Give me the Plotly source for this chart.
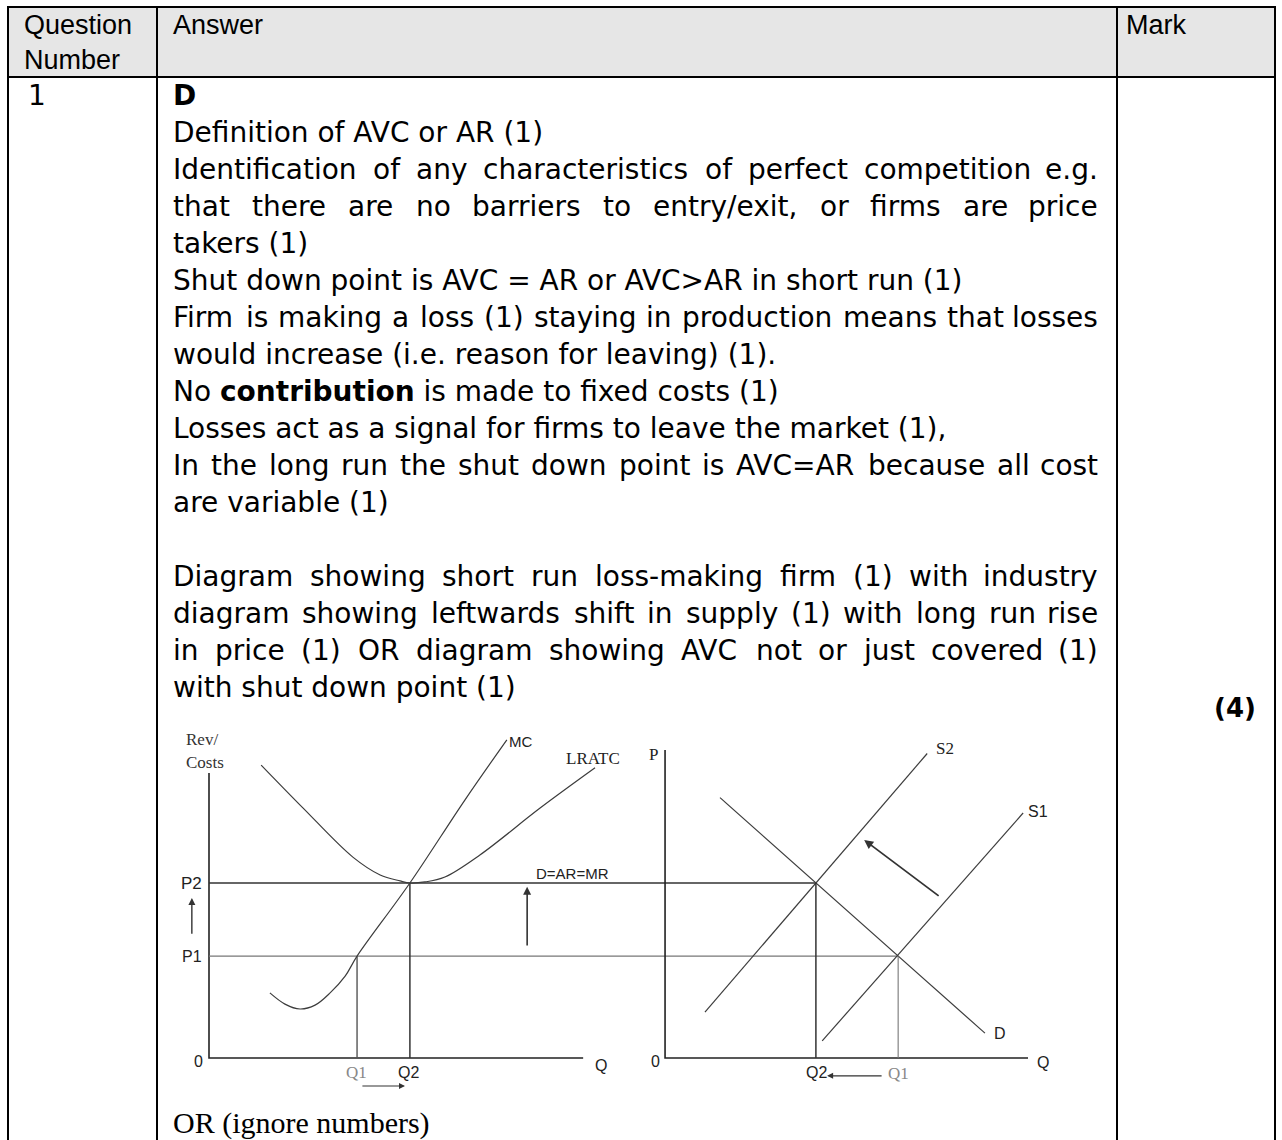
import plotly.graph_objects as go

W, H = 1282, 1140

# ---------------------------------------------------------------- text ----
HEAD_Q = ["Question", "Number"]
HEAD_A = "Answer"
HEAD_M = "Mark"
QNUM = "1"
ANSWER_KEY = "D"
# (line, justified?)
ANSWER_LINES = [
    ("Definition of AVC or AR (1)", False),
    ("Identification of any characteristics of perfect competition e.g.", True),
    ("that there are no barriers to entry/exit, or firms are price", True),
    ("takers (1)", False),
    ("Shut down point is AVC = AR or AVC>AR in short run (1)", False),
    ("Firm is making a loss (1) staying in production means that losses", True),
    ("would increase (i.e. reason for leaving) (1).", False),
    ("No <b>contribution</b> is made to fixed costs (1)", False),
    ("Losses act as a signal for firms to leave the market (1),", False),
    ("In the long run the shut down point is AVC=AR because all cost", True),
    ("are variable (1)", False),
    ("", False),
    ("Diagram showing short run loss-making firm (1) with industry", True),
    ("diagram showing leftwards shift in supply (1) with long run rise", True),
    ("in price (1) OR diagram showing AVC not or just covered (1)", True),
    ("with shut down point (1)", False),
]
MARK = "(4)"
FOOT = "OR (ignore numbers)"

# ------------------------------------------------------- diagram data ----
# firm diagram (left), units of price / quantity
P1, P2 = 2.91, 5.0
Q1, Q2 = 4.23, 5.74
MC_Q = [1.74, 2.17, 2.6, 3.03, 3.46, 3.89, 4.23, 5.74, 7.31, 8.51]
MC_P = [1.86, 1.54, 1.40, 1.51, 1.86, 2.34, 2.91, 5.0, 7.37, 9.09]
LRATC_Q = [1.49, 2.69, 4.11, 4.89, 5.46, 5.74, 6.17, 6.74, 7.74, 9.46, 11.03]
LRATC_P = [8.37, 7.14, 5.74, 5.23, 5.06, 5.0, 5.03, 5.17, 5.8, 7.14, 8.29]
FIRM_AXIS_Q, FIRM_AXIS_P = 10.69, 8.14

# industry diagram (right)
S1_Q, S1_P = [4.49, 10.23], [0.49, 7.0]
S2_Q, S2_P = [1.14, 7.49], [1.31, 8.7]
D_Q, D_P = [1.57, 9.14], [7.44, 0.71]
IQ2, IQ1 = 4.31, 6.66
IND_AXIS_Q, IND_AXIS_P = 10.37, 8.8

# ------------------------------------------------------------ layout ----
UNIT = 35.0            # px per diagram unit
ORX, ORY = 209, 1058   # firm diagram origin on the page
RDX = 13.03            # industry origin offset, in units

TBL_X = [8, 157, 1117, 1275]
TBL_TOP, TBL_HEAD = 7, 77
TXT_L, TXT_R = 172, 1099
Y_FIRST, LINE_H = 95, 37.0
BODY_FONT = "DejaVu Sans"
FS = 28

# DejaVu Sans advance widths (em) for justification
_CW = {' ': .318, '(': .39, ')': .39, ',': .318, '-': .361, '.': .318, '/': .337,
       '=': .838, '>': .838}
_CW.update({d: .636 for d in '0123456789'})
_CW.update(dict(zip('ABCDEFGHIJKLMNOPQRSTUVWXYZ',
                    [.684, .686, .698, .77, .632, .575, .775, .752, .295, .295, .656, .557, .863,
                     .748, .787, .603, .787, .695, .635, .611, .732, .684, .989, .685, .611, .685])))
_CW.update(dict(zip('abcdefghijklmnopqrstuvwxyz',
                    [.613, .635, .55, .635, .615, .352, .635, .634, .278, .278, .579, .278, .974,
                     .634, .612, .635, .635, .411, .521, .392, .634, .592, .818, .592, .592, .525])))


def tw(s):
    return sum(_CW.get(c, .6) for c in s) * FS


fig = go.Figure()
ann = []


def page_text(x, y, text, size=FS, family=BODY_FONT, anchor='left', color='#000'):
    ann.append(dict(x=x, y=y, xref='x', yref='y', text=text, showarrow=False,
                    xanchor=anchor, yanchor='middle', borderpad=0,
                    font=dict(family=family, size=size, color=color)))


# header
page_text(23, 25, HEAD_Q[0], 27, "Liberation Sans")
page_text(23, 60, HEAD_Q[1], 27, "Liberation Sans")
page_text(TXT_L, 25, HEAD_A, 27, "Liberation Sans")
page_text(1125, 25, HEAD_M, 27, "Liberation Sans")

page_text(27, Y_FIRST, QNUM)
page_text(TXT_L, Y_FIRST, "<b>%s</b>" % ANSWER_KEY)

for i, (line, just) in enumerate(ANSWER_LINES):
    y = Y_FIRST + LINE_H * (i + 1)
    if not line:
        continue
    if not just:
        page_text(TXT_L, y, line)
        continue
    words = line.split(' ')
    widths = [tw(w) for w in words]
    gap = (TXT_R - TXT_L - sum(widths)) / (len(words) - 1)
    x = TXT_L
    for j, w in enumerate(words):
        if j == len(words) - 1:
            page_text(TXT_R, y, w, anchor='right')
        else:
            page_text(x, y, w)
        x += widths[j] + gap

page_text(1257, 708, "<b>%s</b>" % MARK, size=26, anchor='right')
page_text(TXT_L, 1123, FOOT, 30, "Liberation Serif")

# table rules
shapes = [dict(type='rect', xref='x', yref='y', x0=TBL_X[0], x1=TBL_X[-1], y0=TBL_TOP, y1=TBL_HEAD,
               fillcolor='#E6E6E6', line=dict(width=0), layer='below')]
for yy in (TBL_TOP, TBL_HEAD):
    shapes.append(dict(type='line', xref='x', yref='y', x0=TBL_X[0] - 1, x1=TBL_X[-1] + 1, y0=yy, y1=yy,
                       line=dict(color='#000', width=2)))
for xx in TBL_X:
    shapes.append(dict(type='line', xref='x', yref='y', x0=xx, x1=xx, y0=TBL_TOP, y1=H + 2,
                       line=dict(color='#000', width=2)))

# ------------------------------------------------------------ diagram ----
AX = dict(color='#222', width=1.6)
CURVE = dict(color='#3c3c3c', width=1.2)


def line(xs, ys, style, shape='linear'):
    fig.add_trace(go.Scatter(x=xs, y=ys, mode='lines', xaxis='x2', yaxis='y2', hoverinfo='skip',
                             line=dict(style, shape=shape, smoothing=1.0 if shape == 'spline' else None)))


def shift(qs):
    return [q + RDX for q in qs]


# firm
line([0, 0, FIRM_AXIS_Q], [FIRM_AXIS_P, 0, 0], AX)
line([0, RDX + IQ2], [P2, P2], dict(color='#333', width=1.4))
line([0, RDX + IQ1], [P1, P1], dict(color='#777', width=1.1))
line([Q1, Q1], [0, P1], dict(color='#555', width=1.4))
line([Q2, Q2], [0, P2], dict(color='#333', width=1.5))
line(MC_Q, MC_P, CURVE, 'spline')
line(LRATC_Q, LRATC_P, CURVE, 'spline')
# industry
line(shift([0, 0, IND_AXIS_Q]), [IND_AXIS_P, 0, 0], AX)
line(shift(S1_Q), S1_P, CURVE)
line(shift(S2_Q), S2_P, CURVE)
line(shift(D_Q), D_P, CURVE)
line(shift([IQ2, IQ2]), [0, P2], dict(color='#333', width=1.5))
line(shift([IQ1, IQ1]), [0, P1], dict(color='#777', width=1.1))


def dlabel(q, p, text, family="Liberation Sans", size=16, anchor='center', color='#222'):
    ann.append(dict(x=q, y=p, xref='x2', yref='y2', text=text, showarrow=False, xanchor=anchor,
                    yanchor='middle', borderpad=0, font=dict(family=family, size=size, color=color)))


SERIF = "Liberation Serif"
dlabel(-0.69, 9.09, "Rev/", SERIF, 17, 'left', '#333')
dlabel(-0.69, 8.43, "Costs", SERIF, 17, 'left', '#333')
dlabel(8.54, 9.03, "MC", size=15, anchor='left')
dlabel(10.17, 8.57, "LRATC", SERIF, 17, 'left')
dlabel(9.31, 5.26, "D=AR=MR", size=15, anchor='left')
dlabel(-0.49, P2, "P2", size=17)
dlabel(-0.49, P1, "P1", size=16)
dlabel(-0.29, -0.11, "0", size=16)
dlabel(11.2, -0.2, "Q", size=16)
dlabel(4.2, -0.4, "Q1", SERIF, 17, color='#888')
dlabel(5.69, -0.4, "Q2", size=16)
dlabel(RDX - 0.34, 8.66, "P", SERIF, 17)
dlabel(RDX + 7.71, 8.83, "S2", SERIF, 17, 'left')
dlabel(RDX + 10.34, 7.03, "S1", size=16, anchor='left')
dlabel(RDX + 9.37, 0.71, "D", size=16, anchor='left')
dlabel(RDX - 0.26, -0.11, "0", size=16)
dlabel(RDX + 10.8, -0.14, "Q", size=16)
dlabel(RDX + 4.34, -0.4, "Q2", size=16)
dlabel(RDX + 6.66, -0.43, "Q1", SERIF, 17, color='#888')


def arrow(tq, tp, hq, hp, width=1.5):
    ann.append(dict(x=hq, y=hp, ax=tq, ay=tp, xref='x2', yref='y2', axref='x2', ayref='y2',
                    text='', showarrow=True, arrowhead=2, arrowsize=1, arrowwidth=width,
                    arrowcolor='#333', standoff=0, startstandoff=0))


arrow(4.34, -0.8, 5.6, -0.8, 1.2)
arrow(-0.49, 3.51, -0.49, 4.57, 1.4)
arrow(9.09, 3.17, 9.09, 4.89, 1.6)
arrow(RDX + 7.86, 4.6, RDX + 5.69, 6.23, 1.8)
arrow(RDX + 6.23, -0.51, RDX + 4.63, -0.51, 1.2)

fig.update_layout(
    width=W, height=H, margin=dict(l=0, r=0, t=0, b=0), showlegend=False,
    paper_bgcolor='white', plot_bgcolor='white',
    xaxis=dict(range=[0, W], visible=False, domain=[0, 1], fixedrange=True),
    yaxis=dict(range=[H, 0], visible=False, domain=[0, 1], fixedrange=True),
    xaxis2=dict(range=[(0 - ORX) / UNIT, (W - ORX) / UNIT], overlaying='x', anchor='y2', visible=False),
    yaxis2=dict(range=[(ORY - H) / UNIT, ORY / UNIT], overlaying='y', anchor='x2', visible=False),
    shapes=shapes, annotations=ann)

fig.write_html("out.html", config={'displayModeBar': False},
               post_script="document.body.style.margin='0';document.body.style.overflow='hidden';")
